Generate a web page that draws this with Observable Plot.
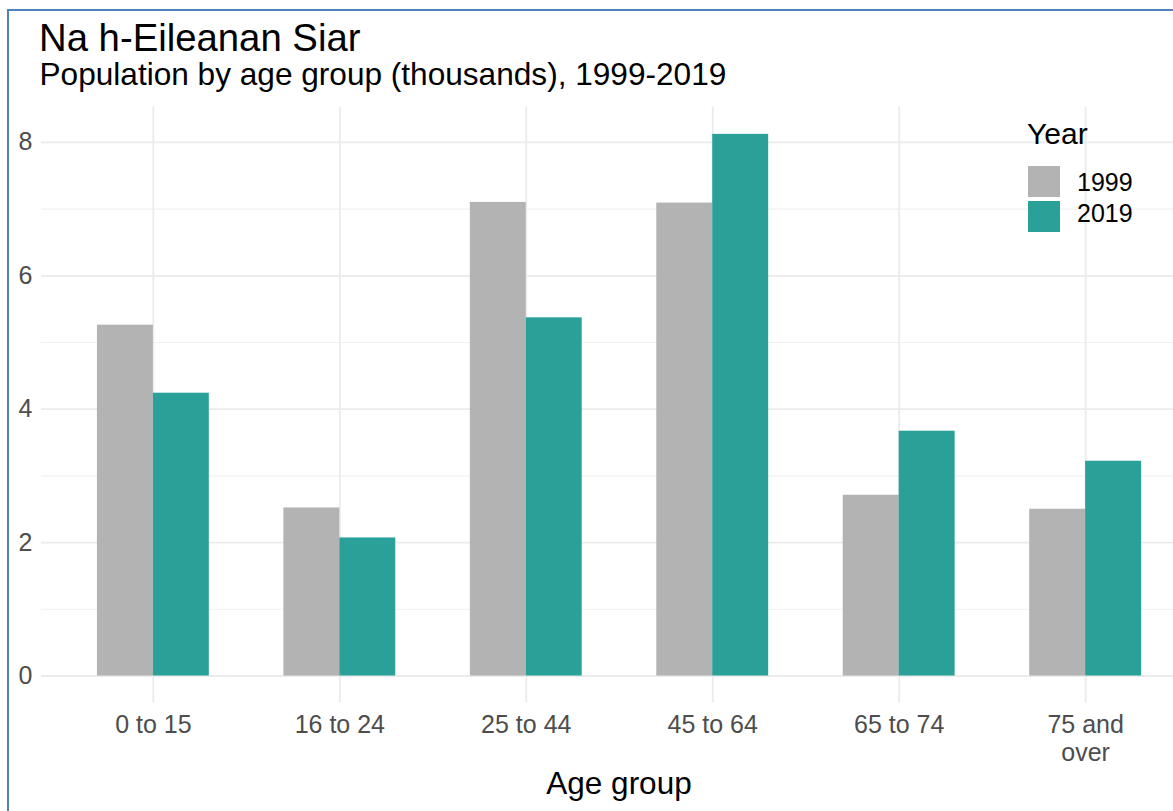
<!DOCTYPE html>
<html>
<head>
<meta charset="utf-8">
<script src="https://cdn.jsdelivr.net/npm/d3@7"></script>
<script src="https://cdn.jsdelivr.net/npm/@observablehq/plot@0.6"></script>
<style>
  html, body { margin: 0; padding: 0; background: #ffffff; overflow: hidden; }
  #page { position: relative; width: 1173px; height: 811px; overflow: hidden; font-family: "Liberation Sans", Arial, Helvetica, sans-serif; }
  .layer { position: absolute; left: 0; top: 0; }
  .txt { position: absolute; line-height: 1; white-space: nowrap; color: #000; }
  #frame { position: absolute; left: 7px; top: 9px; width: 1200px; height: 900px; border-left: 2px solid #4f81bd; border-top: 2px solid #4f81bd; }
  .key { position: absolute; width: 32px; height: 31px; }
</style>
</head>
<body>
<div id="page">
  <div id="bg" class="layer"></div>
  <div id="fg" class="layer"></div>
  <div class="txt" style="left:39px; top:18.6px; font-size:38.3px;">Na h-Eileanan Siar</div>
  <div class="txt" style="left:39.5px; top:58.6px; font-size:31.6px;">Population by age group (thousands), 1999-2019</div>
  <div class="txt" id="xtitle" style="top:768.3px; font-size:31.5px; transform: translateX(-50%);">Age group</div>
  <div id="legend"></div>
  <div id="frame"></div>
</div>
<script>
// ---- data ----
const ageGroups = ["0 to 15", "16 to 24", "25 to 44", "45 to 64", "65 to 74", "75 and over"];
const years = ["1999", "2019"];
const pop1999 = [5.26, 2.52, 7.10, 7.09, 2.71, 2.50];
const pop2019 = [4.24, 2.07, 5.37, 8.12, 3.67, 3.22];
const yearColors = ["#b3b3b3", "#2aa198"];
const yMajorTicks = [0, 2, 4, 6, 8];
const yMinorTicks = [1, 3, 5, 7];
const legendTitle = "Year";

// ---- table built from arrays ----
const rows = [];
ageGroups.forEach((g, i) => {
  rows.push({age: g, year: years[0], value: pop1999[i]});
  rows.push({age: g, year: years[1], value: pop2019[i]});
});

const W = 1197, H = 811, mL = 41, mR = 0, mT = 106.8, mB = 108.4;
const maxV = d3.max(rows, d => d.value);
const pad = 0.05 * maxV;
const yDomain = [-pad, maxV + pad];
const font = "'Liberation Sans', Arial, Helvetica, sans-serif";
const gridColor = "#ebebeb";

// ---- background: grid + axes ----
const bg = Plot.plot({
  width: W, height: H,
  marginLeft: mL, marginRight: mR, marginTop: mT, marginBottom: mB,
  style: {fontFamily: font, background: "transparent", maxWidth: "none", overflow: "visible"},
  x: {type: "band", domain: ageGroups, paddingInner: 0.4, paddingOuter: 0.3, round: false, label: null},
  y: {domain: yDomain, label: null},
  marks: [
    Plot.ruleY(yMinorTicks, {y: d => d, stroke: "#f1f1f1", strokeWidth: 1.1}),
    Plot.ruleY(yMajorTicks, {y: d => d, stroke: gridColor, strokeWidth: 1.8}),
    Plot.ruleX(ageGroups, {x: d => d, stroke: gridColor, strokeWidth: 1.8}),
    Plot.axisY(yMajorTicks, {tickSize: 0, tickPadding: 9, fontSize: 25, fill: "#4d4d4d", label: null,
      tickFormat: d3.format("d")}),
    Plot.axisX({tickSize: 0, tickPadding: 10, fontSize: 25, fill: "#4d4d4d", lineHeight: 1.13, label: null,
      tickFormat: d => d.replace(" and ", " and\n")})
  ]
});
document.getElementById("bg").appendChild(bg);

// ---- foreground: dodged bars via facets ----
const fg = Plot.plot({
  width: W, height: H,
  marginLeft: mL, marginRight: mR, marginTop: mT, marginBottom: mB,
  style: {fontFamily: font, background: "transparent", maxWidth: "none", overflow: "visible"},
  fx: {domain: ageGroups, paddingInner: 0.4, paddingOuter: 0.3, round: false, axis: null, label: null},
  x: {type: "band", domain: years, padding: 0, round: false, axis: null, label: null},
  y: {domain: yDomain, axis: null, label: null},
  color: {domain: years, range: yearColors},
  marks: [
    Plot.barY(rows, {fx: "age", x: "year", y1: 0, y2: "value", fill: "year"})
  ]
});
document.getElementById("fg").appendChild(fg);

// ---- axis title centred on the panel ----
document.getElementById("xtitle").style.left = ((mL + W - mR) / 2) + "px";

// ---- legend ----
const legend = document.getElementById("legend");
const lt = document.createElement("div");
lt.className = "txt";
lt.style.cssText = "left:1027px; top:118.6px; font-size:30px;";
lt.textContent = legendTitle;
legend.appendChild(lt);
years.forEach((yr, i) => {
  const k = document.createElement("div");
  k.className = "key";
  k.style.left = "1028px";
  k.style.top = (166 + i * 34.6) + "px";
  k.style.background = yearColors[i];
  legend.appendChild(k);
  const t = document.createElement("div");
  t.className = "txt";
  t.style.cssText = `left:1077px; top:${169.5 + i * 31}px; font-size:25px;`;
  t.textContent = yr;
  legend.appendChild(t);
});
</script>
</body>
</html>
